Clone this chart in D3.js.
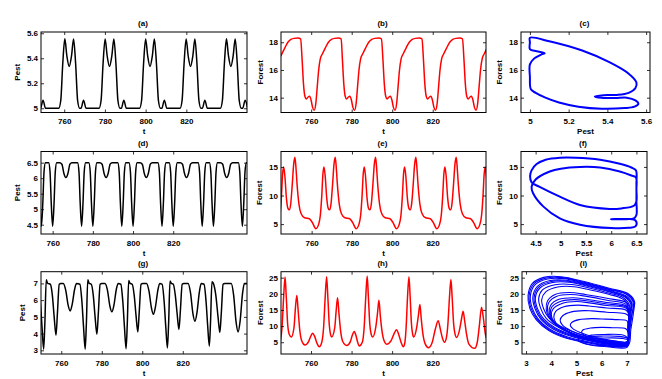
<!DOCTYPE html>
<html>
<head>
<meta charset="utf-8">
<script src="https://cdn.jsdelivr.net/npm/d3@7"></script>
<style>
  body { margin: 0; background: #fff; }
  svg { display: block; font-family: "Liberation Sans", Arial, Helvetica, sans-serif; font-weight: bold; }
</style>
</head>
<body>
<svg id="chart" width="662" height="379"></svg>
<script>
// ---- tick labels ----
const tTicks = [760, 780, 800, 820];

// ---- (a) pest, period-1 regime: [t, pest] ----
const pestA = [
  [748.0,5.0],[748.4,5.0],[749.6,5.065],[750.8,5.0],
  [757.3,5.0],[758.3,5.06],[759.3,5.36],[760.3,5.555],[761.3,5.42],[762.45,5.335],[763.6,5.42],[764.6,5.555],[765.6,5.36],[766.6,5.06],[767.6,5.0],[768.3,5.0],[769.5,5.065],[770.7,5.0],
  [777.1,5.0],[778.1,5.06],[779.1,5.36],[780.1,5.555],[781.1,5.42],[782.25,5.335],[783.4,5.42],[784.4,5.555],[785.4,5.36],[786.4,5.06],[787.4,5.0],[788.1,5.0],[789.3,5.065],[790.5,5.0],
  [797.0,5.0],[798.0,5.06],[799.0,5.36],[800.0,5.555],[801.0,5.42],[802.15,5.335],[803.3,5.42],[804.3,5.555],[805.3,5.36],[806.3,5.06],[807.3,5.0],[808.0,5.0],[809.2,5.065],[810.4,5.0],
  [816.9,5.0],[817.9,5.06],[818.9,5.36],[819.9,5.555],[820.9,5.42],[822.05,5.335],[823.2,5.42],[824.2,5.555],[825.2,5.36],[826.2,5.06],[827.2,5.0],[827.9,5.0],[829.1,5.065],[830.3,5.0],
  [836.7,5.0],[837.7,5.06],[838.7,5.36],[839.7,5.555],[840.7,5.42],[841.85,5.335],[843.0,5.42],[844.0,5.555],[845.0,5.36],[846.0,5.06],[847.0,5.0],[847.7,5.0],[848.9,5.065],[850.1,5.0]
];

// ---- (b) forest: [t, forest] ----
const forestB = [
  [745.0,17.0],[745.5,17.15],[747.0,17.6],[748.5,18.0],[750.0,18.2],[751.5,18.28],[753.5,18.3],[754.8,18.25],
  [755.5,16.8],[756.2,15.0],[756.9,14.1],[757.6,13.9],[758.5,14.05],[759.2,14.1],[760.0,13.8],[760.7,13.3],[761.5,13.1],[762.3,13.6],[763.0,14.8],[763.7,16.0],[764.5,16.8],[765.5,17.15],[767.0,17.6],[768.5,18.0],[770.0,18.2],[771.5,18.28],[773.5,18.3],[774.8,18.25],
  [775.4,16.8],[776.1,15.0],[776.8,14.1],[777.5,13.9],[778.4,14.05],[779.1,14.1],[779.9,13.8],[780.6,13.3],[781.4,13.1],[782.2,13.6],[782.9,14.8],[783.6,16.0],[784.4,16.8],[785.4,17.15],[786.9,17.6],[788.4,18.0],[789.9,18.2],[791.4,18.28],[793.4,18.3],[794.7,18.25],
  [795.4,16.8],[796.1,15.0],[796.8,14.1],[797.5,13.9],[798.4,14.05],[799.1,14.1],[799.9,13.8],[800.6,13.3],[801.4,13.1],[802.2,13.6],[802.9,14.8],[803.6,16.0],[804.4,16.8],[805.4,17.15],[806.9,17.6],[808.4,18.0],[809.9,18.2],[811.4,18.28],[813.4,18.3],[814.7,18.25],
  [815.4,16.8],[816.1,15.0],[816.8,14.1],[817.5,13.9],[818.4,14.05],[819.1,14.1],[819.9,13.8],[820.6,13.3],[821.4,13.1],[822.2,13.6],[822.9,14.8],[823.6,16.0],[824.4,16.8],[825.4,17.15],[826.9,17.6],[828.4,18.0],[829.9,18.2],[831.4,18.28],[833.4,18.3],[834.7,18.25],
  [835.4,16.8],[836.1,15.0],[836.8,14.1],[837.5,13.9],[838.4,14.05],[839.1,14.1],[839.9,13.8],[840.6,13.3],[841.4,13.1],[842.2,13.6],[842.9,14.8],[843.6,16.0],[844.4,16.8],[845.4,17.15],[846.9,17.6]
];

// ---- (c) phase loop: [pest, forest] ----
const phaseC = [
  [5.0,18.32],[5.10,18.07],[5.27,17.40],[5.41,16.56],[5.51,15.73],[5.55,15.1],[5.545,14.7],[5.51,14.35],[5.45,14.2],[5.38,14.18],
  [5.335,14.09],[5.37,13.99],[5.44,13.97],[5.50,14.0],[5.545,13.8],[5.56,13.55],[5.54,13.35],[5.49,13.25],[5.37,13.2],[5.25,13.35],
  [5.15,13.65],[5.08,14.0],[5.03,14.35],[5.005,14.6],[5.0,15.5],[5.0,16.4],[5.02,16.8],[5.06,17.12],[5.076,17.21],[5.035,17.35],[5.0,17.5],[5.0,18.0]
];

// ---- (d) pest, period-2 regime ----
const pestD = [
  [752.4,6.5],[753.1,6.2],[753.7,5.2],[754.4,4.45],[755.1,5.2],[755.7,6.2],[756.4,6.5],[757.2,6.5],[758.0,6.5],[758.7,6.2],[759.3,5.2],[760.0,4.45],
  [760.7,5.2],[761.3,6.2],[762.0,6.5],[763.5,6.5],[764.6,6.45],[765.6,6.15],[766.6,6.02],[767.6,6.15],[768.6,6.45],[769.6,6.5],[772.4,6.5],[773.1,6.2],[773.7,5.2],[774.4,4.45],[775.1,5.2],[775.7,6.2],[776.4,6.5],[777.2,6.5],[778.0,6.5],[778.7,6.2],[779.3,5.2],[780.0,4.45],
  [780.7,5.2],[781.3,6.2],[782.0,6.5],[783.5,6.5],[784.6,6.45],[785.6,6.15],[786.6,6.02],[787.6,6.15],[788.6,6.45],[789.6,6.5],[792.4,6.5],[793.1,6.2],[793.7,5.2],[794.4,4.45],[795.1,5.2],[795.7,6.2],[796.4,6.5],[797.2,6.5],[798.0,6.5],[798.7,6.2],[799.3,5.2],[800.0,4.45],
  [800.7,5.2],[801.3,6.2],[802.0,6.5],[803.5,6.5],[804.6,6.45],[805.6,6.15],[806.6,6.02],[807.6,6.15],[808.6,6.45],[809.6,6.5],[812.4,6.5],[813.1,6.2],[813.7,5.2],[814.4,4.45],[815.1,5.2],[815.7,6.2],[816.4,6.5],[817.2,6.5],[818.0,6.5],[818.7,6.2],[819.3,5.2],[820.0,4.45],
  [820.7,5.2],[821.3,6.2],[822.0,6.5],[823.5,6.5],[824.6,6.45],[825.6,6.15],[826.6,6.02],[827.6,6.15],[828.6,6.45],[829.6,6.5],[832.4,6.5],[833.1,6.2],[833.7,5.2],[834.4,4.45],[835.1,5.2],[835.7,6.2],[836.4,6.5],[837.2,6.5],[838.0,6.5],[838.7,6.2],[839.3,5.2],[840.0,4.45],
  [840.7,5.2],[841.3,6.2],[842.0,6.5],[843.5,6.5],[844.6,6.45],[845.6,6.15],[846.6,6.02],[847.6,6.15],[848.6,6.45],[849.6,6.5],[852.4,6.5],[853.1,6.2],[853.7,5.2],[854.4,4.45],[855.1,5.2],[855.7,6.2],[856.4,6.5],[857.2,6.5]
];

// ---- (e) forest ----
const forestE = [
  [743.5,5.0],[744.3,6.5],[745.0,9.8],[745.6,13.8],[746.1,15.0],[746.7,13.5],[747.5,9.5],[748.2,7.8],[748.9,7.5],[749.6,8.5],[750.4,12.0],[751.1,15.5],[751.7,16.7],
  [752.2,15.0],[752.7,12.3],[753.7,8.5],[754.8,6.8],[756.5,6.1],[758.9,5.95],[760.3,5.3],[762.1,4.2],[763.5,5.0],[764.3,6.5],[765.0,9.8],[765.6,13.8],[766.1,15.0],[766.7,13.5],[767.5,9.5],[768.2,7.8],[768.9,7.5],[769.6,8.5],[770.4,12.0],[771.1,15.5],[771.7,16.7],
  [772.2,15.0],[772.7,12.3],[773.7,8.5],[774.8,6.8],[776.5,6.1],[778.9,5.95],[780.3,5.3],[782.1,4.2],[783.5,5.0],[784.3,6.5],[785.0,9.8],[785.6,13.8],[786.1,15.0],[786.7,13.5],[787.5,9.5],[788.2,7.8],[788.9,7.5],[789.6,8.5],[790.4,12.0],[791.1,15.5],[791.7,16.7],
  [792.2,15.0],[792.7,12.3],[793.7,8.5],[794.8,6.8],[796.5,6.1],[798.9,5.95],[800.3,5.3],[802.1,4.2],[803.5,5.0],[804.3,6.5],[805.0,9.8],[805.6,13.8],[806.1,15.0],[806.7,13.5],[807.5,9.5],[808.2,7.8],[808.9,7.5],[809.6,8.5],[810.4,12.0],[811.1,15.5],[811.7,16.7],
  [812.2,15.0],[812.7,12.3],[813.7,8.5],[814.8,6.8],[816.5,6.1],[818.9,5.95],[820.3,5.3],[822.1,4.2],[823.5,5.0],[824.3,6.5],[825.0,9.8],[825.6,13.8],[826.1,15.0],[826.7,13.5],[827.5,9.5],[828.2,7.8],[828.9,7.5],[829.6,8.5],[830.4,12.0],[831.1,15.5],[831.7,16.7],
  [832.2,15.0],[832.7,12.3],[833.7,8.5],[834.8,6.8],[836.5,6.1],[838.9,5.95],[840.3,5.3],[842.1,4.2],[843.5,5.0],[844.3,6.5],[845.0,9.8],[845.6,13.8],[846.1,15.0],[846.7,13.5],[847.5,9.5]
];

// ---- (f) phase loop ----
const phaseF = [
  [4.42,12.3],[4.39,13.4],[4.42,14.4],[4.52,15.5],[4.7,16.25],[4.98,16.6],[5.3,16.6],[5.78,16.25],[6.17,15.55],[6.4,14.9],[6.49,14.4],
  [6.5,12.0],[6.5,9.0],[6.5,6.6],[6.45,6.0],[6.2,5.9],[5.99,5.86],[6.2,5.83],[6.45,5.8],[6.5,5.4],[6.48,4.6],[6.35,4.35],
  [6.0,4.3],[5.38,4.9],[4.98,6.0],[4.65,8.1],[4.45,10.4],[4.42,11.5],[4.5,12.8],[4.78,14.2],[5.0,14.7],[5.38,15.0],[5.78,14.9],[6.17,14.2],[6.4,13.5],[6.49,13.15],
  [6.5,11.0],[6.5,9.0],[6.45,8.2],[6.2,7.75],[5.97,7.66],[5.38,8.35],[4.98,9.8],[4.58,11.5]
];

// ---- (g) pest, chaotic regime ----
const pestG = [
  [748.7,6.95],[749.7,5.9],[750.5,4.4],[751.3,3.07],[751.9,4.6],[752.6,7.22],[753.3,7.0],
  [754.6,6.95],[755.6,6.3],[756.5,5.0],[757.4,3.9],[758.1,5.2],[759.0,6.95],[759.8,7.0],
  [761.0,7.0],[762.2,6.6],[763.4,5.7],[764.4,5.35],[765.4,5.75],[766.6,6.65],[767.5,7.0],
  [769.2,6.95],[770.2,5.9],[771.0,4.4],[771.8,3.07],[772.4,4.6],[773.1,7.22],[773.8,7.0],
  [774.8,6.95],[775.8,6.3],[776.7,5.0],[777.6,3.96],[778.3,5.2],[779.2,6.95],[780.0,7.0],
  [781.6,7.0],[782.8,6.6],[784.0,5.65],[785.0,5.3],[786.0,5.7],[787.2,6.65],[788.1,7.0],
  [789.4,6.95],[790.4,5.9],[791.2,4.4],[792.0,3.1],[792.6,4.6],[793.3,7.18],[794.0,7.0],
  [795.0,6.95],[796.0,6.3],[796.9,5.1],[797.8,4.1],[798.5,5.3],[799.4,6.95],[800.2,7.0],
  [802.1,7.0],[803.3,6.55],[804.5,5.55],[805.5,5.15],[806.5,5.6],[807.7,6.6],[808.6,7.0],
  [809.8,6.95],[810.8,5.9],[811.6,4.4],[812.4,3.14],[813.0,4.6],[813.7,7.15],[814.4,7.0],
  [815.3,6.95],[816.3,6.3],[817.2,5.2],[818.1,4.25],[818.8,5.35],[819.7,6.95],[820.5,7.0],
  [822.6,7.0],[823.8,6.45],[825.0,5.2],[826.0,4.74],[827.0,5.25],[828.2,6.5],[829.1,7.0],
  [830.5,6.95],[831.5,5.9],[832.3,4.45],[833.1,3.25],[833.7,4.7],[834.4,7.1],[835.1,7.0],
  [836.3,6.3],[837.4,5.0],[838.3,4.07],[839.0,5.2],[839.9,6.95],[840.7,7.0],
  [843.9,7.0],[845.1,6.3],[846.3,4.7],[847.3,4.1],[848.3,4.75],[849.5,6.4],[850.4,7.0],[852.5,7.0]
];

// ---- (h) forest, chaotic regime ----
const forestH = [
  [744.0,3.8],[744.8,5.0],[745.7,9.5],[746.5,19.0],[747.2,25.2],[747.8,19.0],[748.5,10.5],[749.3,7.4],[750.3,6.6],[751.6,9.5],[752.3,15.5],[753.0,19.5],[753.7,14.5],[754.5,8.5],[755.5,5.3],[757.0,4.15],[758.8,5.2],[760.0,7.0],[760.8,7.8],[761.8,6.8],[763.0,4.6],[764.1,3.6],
  [765.3,5.0],[766.2,9.5],[767.0,19.0],[767.7,25.3],[768.3,19.0],[769.0,10.5],[769.6,7.5],[770.2,6.6],[771.7,9.5],[772.4,14.7],[773.1,18.75],[773.8,13.8],[774.6,8.5],[775.6,5.3],[777.6,4.0],[779.4,5.2],[780.5,7.4],[781.3,8.3],[782.2,7.0],[783.0,5.0],[783.8,3.85],
  [785.3,5.0],[786.2,9.5],[787.0,19.0],[787.7,25.5],[788.3,19.0],[789.0,10.5],[789.7,7.4],[790.4,6.6],[791.9,9.5],[792.8,14.0],[793.5,18.0],[794.2,13.0],[795.0,8.5],[796.0,5.5],[797.3,4.4],[799.5,5.5],[801.2,8.0],[802.2,8.85],[803.2,7.5],[804.4,5.0],[805.5,3.6],
  [806.2,4.6],[806.9,9.5],[807.6,19.0],[808.3,25.3],[808.9,19.0],[809.5,11.0],[810.1,7.6],[810.7,6.6],[812.1,9.5],[813.0,13.5],[813.7,16.65],[814.4,12.0],[815.2,7.5],[816.3,4.5],[818.0,3.3],[819.7,4.8],[821.3,9.0],[822.7,11.65],[823.8,9.0],[824.8,6.3],[825.8,5.0],
  [826.7,6.2],[827.5,10.5],[828.3,19.0],[829.0,24.4],[829.6,19.0],[830.3,11.0],[831.0,7.6],[831.8,6.5],[833.3,9.0],[834.3,12.5],[835.0,14.6],[835.8,11.5],[836.7,7.5],[837.8,4.5],[840.7,3.1],[842.0,5.0],[843.0,10.0],[844.1,15.8],[845.0,12.5],[846.0,7.5],[847.0,5.5]
];

// ---- (i) phase loops read from the chaotic attractor ----
const loopsI = [
  [[7.0,4.0],[7.1,9],[7.2,14],[7.3,17.5],[7.05,20],[6.3,21.7],[5.3,23.8],[4.4,25.3],[3.7,25.1],[3.25,23.2],[3.08,19.5],[3.15,15.5],[3.4,12],[3.9,8.6],[4.6,6.2],[5.6,4.6],[6.5,3.7]],
  [[7.05,4.1],[7.15,9],[7.25,14],[7.28,17.3],[7.02,19.85],[6.3,21.5],[5.3,23.55],[4.45,25.0],[3.78,24.85],[3.3,23.0],[3.12,19.4],[3.2,15.5],[3.45,12],[3.92,8.8],[4.62,6.4],[5.6,4.75],[6.5,3.85]],
  [[7.0,4.2],[7.1,9],[7.2,14],[7.25,17.2],[7.0,19.7],[6.3,21.3],[5.3,23.3],[4.5,24.7],[3.85,24.6],[3.35,22.8],[3.17,19.3],[3.25,15.5],[3.5,12],[3.95,9],[4.65,6.6],[5.6,4.9],[6.5,4.0]],
  [[7.0,4.4],[7.1,9],[7.15,14],[7.2,17],[6.95,19.4],[6.3,21],[5.4,22.9],[4.6,24.2],[3.95,24.1],[3.45,22.3],[3.27,19],[3.35,15.5],[3.6,12],[4.05,9.2],[4.75,6.9],[5.7,5.1],[6.5,4.2]],
  [[7.0,4.5],[7.08,9],[7.12,14],[7.18,16.85],[6.92,19.25],[6.3,20.8],[5.4,22.65],[4.65,23.9],[4.0,23.8],[3.5,22.05],[3.32,18.9],[3.4,15.5],[3.65,12.1],[4.1,9.35],[4.8,7.05],[5.75,5.2],[6.55,4.35]],
  [[7.0,4.6],[7.05,9],[7.1,14],[7.15,16.7],[6.9,19.1],[6.3,20.6],[5.4,22.4],[4.7,23.6],[4.05,23.5],[3.55,21.8],[3.37,18.8],[3.45,15.5],[3.7,12.2],[4.15,9.5],[4.85,7.2],[5.8,5.3],[6.6,4.5]],
  [[7.0,4.8],[7.05,9],[7.1,14],[7.1,16.4],[6.85,18.8],[6.3,20.2],[5.5,21.8],[4.8,22.9],[4.15,22.8],[3.65,21.2],[3.5,18.5],[3.58,15.5],[3.8,12.4],[4.25,9.8],[4.95,7.5],[5.9,5.5],[6.6,4.7]],
  [[7.0,5.0],[7.05,9],[7.08,14],[7.08,16.1],[6.8,18.5],[6.3,19.8],[5.55,21.2],[4.9,22.2],[4.25,22.1],[3.78,20.6],[3.62,18.2],[3.7,15.3],[3.9,12.6],[4.35,10],[5.05,7.7],[6.0,5.7],[6.65,4.9]],
  [[7.0,4.3],[7.05,10],[7.05,15.5],[6.97,17.3],[6.2,18.6],[5.35,19.8],[4.7,20.4],[4.15,19.8],[3.85,17.8],[3.8,15.3],[3.9,12.8],[4.2,10.2],[4.75,7.8],[5.55,5.7],[6.5,4.25]],
  [[7.0,4.2],[7.05,10],[7.05,15],[6.95,16.8],[6.2,18.0],[5.4,19.2],[4.75,19.8],[4.2,19.2],[3.9,17.3],[3.85,15.0],[3.95,12.5],[4.25,10],[4.8,7.6],[5.6,5.6],[6.5,4.3]],
  [[7.0,4.4],[7.05,10],[7.05,14.8],[6.95,16.3],[6.2,17.3],[5.4,18.3],[4.85,18.8],[4.3,18.3],[3.97,16.4],[3.92,14.2],[4.02,12],[4.35,9.6],[4.9,7.4],[5.7,5.5],[6.5,4.5]],
  [[7.0,4.5],[7.05,10],[7.05,14.6],[6.95,15.95],[6.2,16.85],[5.45,17.75],[4.9,18.2],[4.38,17.7],[4.02,15.9],[3.96,13.8],[4.06,11.7],[4.4,9.45],[4.95,7.3],[5.75,5.5],[6.5,4.6]],
  [[7.0,4.6],[7.05,10],[7.05,14.5],[6.95,15.6],[6.2,16.4],[5.5,17.2],[5.0,17.6],[4.45,17.1],[4.08,15.4],[4.0,13.5],[4.1,11.5],[4.45,9.3],[5.0,7.2],[5.8,5.5],[6.5,4.7]],
  [[7.0,4.8],[7.05,10],[7.05,14],[6.95,15.0],[6.2,15.6],[5.5,16.2],[5.05,16.5],[4.5,16.0],[4.17,14.5],[4.1,12.8],[4.2,10.8],[4.55,8.9],[5.1,7.0],[5.85,5.6],[6.5,4.9]],
  [[7.0,5.0],[7.05,10],[7.05,13.2],[6.9,13.9],[6.2,14.3],[5.6,14.7],[5.3,14.8],[4.8,14.4],[4.45,13.2],[4.35,11.8],[4.45,10.2],[4.8,8.5],[5.3,7.0],[5.95,5.8],[6.55,5.1]],
  [[7.0,5.1],[7.05,9.5],[7.0,11.6],[6.6,12.0],[6.0,12.2],[5.6,12.3],[5.1,12.0],[4.82,11.2],[4.75,10.3],[4.85,9.2],[5.15,8.0],[5.6,6.8],[6.2,5.8],[6.65,5.2]],
  [[7.0,5.2],[7.05,8.0],[6.95,9.2],[6.4,9.5],[6.0,9.6],[5.55,9.4],[5.25,8.8],[5.2,8.0],[5.3,7.2],[5.6,6.4],[6.1,5.8],[6.6,5.3]],
  [[7.0,5.0],[7.0,6.5],[6.8,7.3],[6.1,7.4],[5.6,7.2],[5.4,6.6],[5.5,5.9],[5.9,5.3],[6.5,4.9]],
  [[7.0,3.8],[7.05,6.0],[6.7,6.8],[6.0,6.9],[5.3,6.5],[5.05,5.6],[5.3,4.6],[6.1,3.9]],
  [[7.0,3.4],[7.05,5.5],[6.8,6.2],[6.0,6.3],[5.4,6.0],[5.2,5.2],[5.5,4.2],[6.2,3.6]]
];

// ---- panel table (layout only) ----
const panels = [
  { title: "(a)", box: [41, 32, 247, 112.5], xd: [748.6, 849.8], yd: [4.966, 5.61], xt: tTicks, yt: [5, 5.2, 5.4, 5.6],
    series: [pestA], kind: "ts", color: "#000", width: 1.5, xlab: "t", ylab: "Pest", ylx: 17 },
  { title: "(b)", box: [281, 32, 486, 112.5], xd: [745.1, 846.3], yd: [12.93, 18.74], xt: tTicks, yt: [14, 16, 18],
    series: [forestB], kind: "ts", color: "#ff0000", width: 1.5, xlab: "t", ylab: "Forest", ylx: 260 },
  { title: "(c)", box: [521, 32, 650, 112.5], xd: [4.954, 5.62], yd: [12.93, 18.74], xt: [5, 5.2, 5.4, 5.6], yt: [14, 16, 18],
    series: [phaseC], kind: "phase", color: "#0000ff", width: 2, xlab: "Pest", ylab: "Forest", ylx: 499 },
  { title: "(d)", box: [41, 151.5, 247, 234], xd: [754.2, 856.7], yd: [4.2, 6.86], xt: tTicks, yt: [4.5, 5, 5.5, 6, 6.5],
    series: [pestD], kind: "ts", color: "#000", width: 1.5, xlab: "t", ylab: "Pest", ylx: 17 },
  { title: "(e)", box: [281, 151.5, 486, 234], xd: [744.8, 846.5], yd: [3.27, 17.7], xt: tTicks, yt: [5, 10, 15],
    series: [forestE], kind: "ts", color: "#ff0000", width: 1.5, xlab: "t", ylab: "Forest", ylx: 259.5 },
  { title: "(f)", box: [521, 151.5, 647, 234], xd: [4.21, 6.71], yd: [3.27, 17.7], xt: [4.5, 5, 5.5, 6, 6.5], yt: [5, 10, 15],
    series: [phaseF], kind: "phase", color: "#0000ff", width: 2, xlab: "Pest", ylab: "Forest", ylx: 499 },
  { title: "(g)", box: [41, 271.7, 247, 354], xd: [750, 851.7], yd: [2.78, 7.7], xt: tTicks, yt: [3, 4, 5, 6, 7],
    series: [pestG], kind: "ts", color: "#000", width: 1.5, xlab: "t", ylab: "Pest", ylx: 21.7 },
  { title: "(h)", box: [281, 271.7, 486, 354], xd: [745.2, 846.3], yd: [1.35, 26.85], xt: tTicks, yt: [5, 10, 15, 20, 25],
    series: [forestH], kind: "ts", color: "#ff0000", width: 1.5, xlab: "t", ylab: "Forest", ylx: 260 },
  { title: "(i)", box: [522, 271.7, 647, 354], xd: [2.84, 7.79], yd: [1.35, 26.85], xt: [3, 4, 5, 6, 7], yt: [5, 10, 15, 20, 25],
    series: loopsI, kind: "phase", color: "#0000ff", width: 1.1, xlab: "Pest", ylab: "Forest", ylx: 499 }
];

const svg = d3.select("#chart");
const fmt = d3.format("~g");
const FS = 8;

panels.forEach((p, k) => {
  const [x0, y0, x1, y1] = p.box;
  const x = d3.scaleLinear().domain(p.xd).range([x0, x1]);
  const y = d3.scaleLinear().domain(p.yd).range([y1, y0]);
  const g = svg.append("g");

  g.append("clipPath").attr("id", "clip" + k)
    .append("rect").attr("x", x0).attr("y", y0).attr("width", x1 - x0).attr("height", y1 - y0);

  const plot = g.append("g").attr("clip-path", `url(#clip${k})`);
  const line = d3.line()
    .x(d => x(d[0]))
    .y(d => y(d[1]))
    .curve(p.kind === "ts" ? d3.curveMonotoneX : d3.curveCatmullRomClosed.alpha(0.5));

  plot.selectAll("path.series")
    .data(p.series)
    .enter().append("path")
    .attr("class", "series")
    .attr("d", line)
    .attr("fill", "none")
    .attr("stroke", p.color)
    .attr("stroke-width", p.width)
    .attr("stroke-linejoin", "round");

  // axes, ticks pointing inward on all four sides
  const styleAxis = sel => {
    sel.select(".domain").remove();
    sel.selectAll(".tick line").attr("stroke", "#000").attr("stroke-width", 0.8);
    sel.selectAll(".tick text").attr("fill", "#000").style("font-size", FS + "px").style("font-weight", "bold");
  };

  g.append("g").attr("transform", `translate(0,${y1})`)
    .call(d3.axisBottom(x).tickValues(p.xt).tickSize(-3).tickPadding(6).tickFormat(fmt))
    .call(styleAxis);
  g.append("g").attr("transform", `translate(0,${y0})`)
    .call(d3.axisTop(x).tickValues(p.xt).tickSize(-3).tickFormat(""))
    .call(styleAxis);
  g.append("g").attr("transform", `translate(${x0},0)`)
    .call(d3.axisLeft(y).tickValues(p.yt).tickSize(-3).tickPadding(3).tickFormat(fmt))
    .call(styleAxis);
  g.append("g").attr("transform", `translate(${x1},0)`)
    .call(d3.axisRight(y).tickValues(p.yt).tickSize(-3).tickFormat(""))
    .call(styleAxis);

  g.append("rect")
    .attr("x", x0).attr("y", y0)
    .attr("width", x1 - x0).attr("height", y1 - y0)
    .attr("fill", "none").attr("stroke", "#000").attr("stroke-width", 1);

  g.append("text")
    .attr("x", (x0 + x1) / 2 - 1).attr("y", y0 - 6)
    .attr("text-anchor", "middle").style("font-size", FS + "px")
    .text(p.title);

  g.append("text")
    .attr("x", (x0 + x1) / 2).attr("y", y1 + 21.5)
    .attr("text-anchor", "middle").style("font-size", FS + "px")
    .text(p.xlab);

  g.append("text")
    .attr("transform", `translate(${p.ylx},${(y0 + y1) / 2}) rotate(-90)`)
    .attr("dy", "0.35em")
    .attr("text-anchor", "middle").style("font-size", FS + "px")
    .text(p.ylab);
});
</script>
</body>
</html>
